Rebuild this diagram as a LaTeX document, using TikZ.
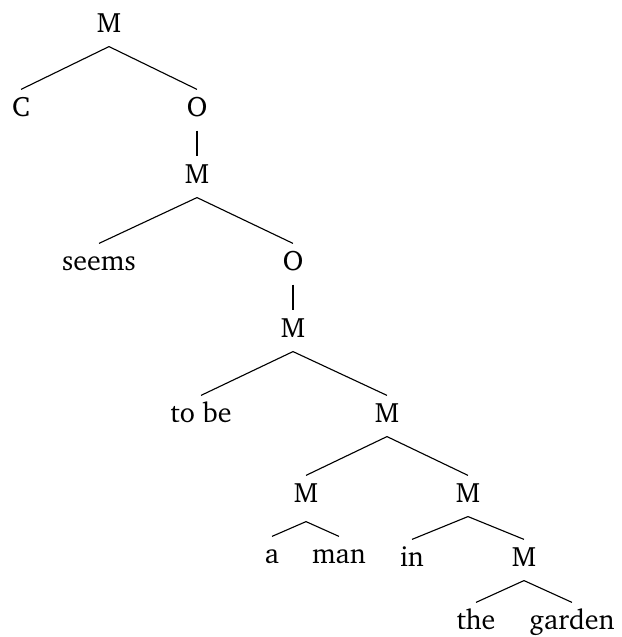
\documentclass[tikz,border=0pt]{standalone}
\usepackage[T1]{fontenc}
\usepackage{charter}
\begin{document}
\begin{tikzpicture}[x=0.357pt, y=-0.357pt, every node/.style={anchor=base, inner sep=0pt, text height=9.3pt, text depth=5pt}]
        \useasboundingbox (0,0) rectangle (621,637);
        \node (root) at (109,32) {M};
        \node (c) at (21,116) {C};
        \node (o1) at (197,116) {O};
        \node (m1) at (197,183) {M};
        \node (seems) at (99,270) {seems};
        \node (o2) at (293,270) {O};
        \node (m2) at (293,337) {M};
        \node (tobe) at (201,422) {to be};
        \node (m3) at (387,422) {M};
        \node[text depth=6.8pt] (m4) at (306,502) {M};
        \node (m5) at (468,502) {M};
        \node (a) at (272,563) {a};
        \node (man) at (339,563) {man};
        \node (in) at (412,566) {in};
        \node (m6) at (524,566) {M};
        \node (the) at (476,629) {the};
        \node (garden) at (572,629) {garden};
        \draw (root.south)--(c.north);
        \draw (root.south)--(o1.north);
        \draw (o1.south)--(m1.north);
        \draw (m1.south)--(seems.north);
        \draw (m1.south)--(o2.north);
        \draw (o2.south)--(m2.north);
        \draw (m2.south)--(tobe.north);
        \draw (m2.south)--(m3.north);
        \draw (m3.south)--(m4.north);
        \draw (m3.south)--(m5.north);
        \draw (m4.south)--(a.north);
        \draw (m4.south)--(man.north);
        \draw (m5.south)--(in.north);
        \draw (m5.south)--(m6.north);
        \draw (m6.south)--(the.north);
        \draw (m6.south)--(garden.north);
    \end{tikzpicture}
\end{document}
